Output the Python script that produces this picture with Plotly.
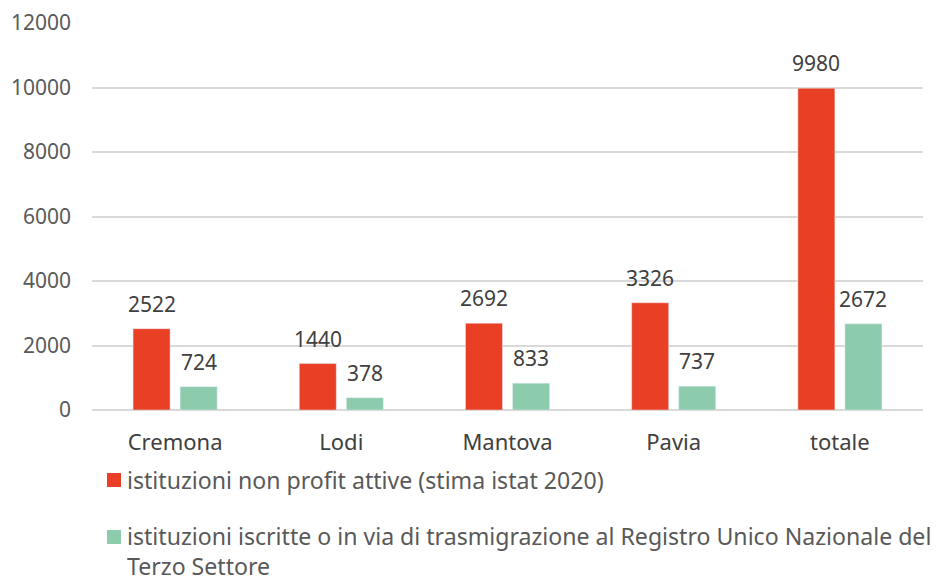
import plotly.graph_objects as go

categories = ["Cremona", "Lodi", "Mantova", "Pavia", "totale"]
attive = [2522, 1440, 2692, 3326, 9980]
iscritte = [724, 378, 833, 737, 2672]
tick_vals = [0, 2000, 4000, 6000, 8000, 10000, 12000]
tick_text = ["0", "2000", "4000", "6000", "8000", "10000", "12000"]
name_attive = "istituzioni non profit attive (stima istat 2020)"
name_iscritte = "istituzioni iscritte o in via di trasmigrazione al Registro Unico Nazionale del<br>Terzo Settore"

FONT = "Noto Sans, sans-serif"
GRAY = "#595959"
DARK = "#404040"
RED = "#E94025"
GREEN = "#8DCBAD"
FS = 21

# the page body adds an 8px offset; geometry below is in figure pixels
OFF = 8
W, H = 944 - OFF, 578 - OFF
L, R, T, B = 92 - OFF, 21, 23 - OFF, 168
PW, PH = W - L - R, H - T - B


def px_x(px):
    return (px - OFF - L) / PW


def px_y(py):
    return (H - B - (py - OFF)) / PH


fig = go.Figure()
fig.add_trace(go.Bar(x=categories, y=attive, name=name_attive, marker_color=RED,
                     showlegend=False))
fig.add_trace(go.Bar(x=categories, y=iscritte, name=name_iscritte, marker_color=GREEN,
                     showlegend=False))

# value labels above bars
for vals, shift in ((attive, -23.5), (iscritte, 23.5)):
    for c, v in zip(categories, vals):
        fig.add_annotation(x=c, y=v, text=str(v), showarrow=False,
                           xref="x", yref="y", xshift=shift, yshift=25,
                           yanchor="middle", xanchor="center",
                           font=dict(size=FS, color=DARK, family=FONT))

# legend (drawn manually to match the reference layout)
LFS = 23.1
for color, name, sym_top, txt_mid in ((RED, name_attive, 473, 480),
                                       (GREEN, name_iscritte, 530, 551)):
    fig.add_shape(type="rect", xref="paper", yref="paper",
                  x0=px_x(107), x1=px_x(121), y0=px_y(sym_top + 14), y1=px_y(sym_top),
                  fillcolor=color, line=dict(width=0))
    fig.add_annotation(x=px_x(125), y=px_y(txt_mid), xref="paper", yref="paper",
                       text=name, showarrow=False, xanchor="left", yanchor="middle",
                       align="left", font=dict(size=LFS, color=GRAY, family=FONT))

fig.update_layout(
    width=W, height=H,
    margin=dict(l=L, r=R, t=T, b=B),
    plot_bgcolor="white", paper_bgcolor="white",
    barmode="group", bargap=0.434, bargroupgap=0.213,
    font=dict(family=FONT, size=FS, color=GRAY),
    showlegend=False,
    yaxis=dict(
        range=[0, 12000], tickvals=tick_vals, ticktext=tick_text,
        showgrid=True, gridcolor="#D9D9D9",
        gridwidth=1.5, zeroline=True, zerolinecolor="#D9D9D9", zerolinewidth=1.5,
        showline=False, ticks="", tickfont=dict(size=FS, color=GRAY),
        ticklabelstandoff=20, automargin=False,
    ),
    xaxis=dict(
        showline=False, ticks="", tickfont=dict(size=22, color=DARK),
        ticklabelstandoff=17, automargin=False,
    ),
)

fig.write_html("out.html")
